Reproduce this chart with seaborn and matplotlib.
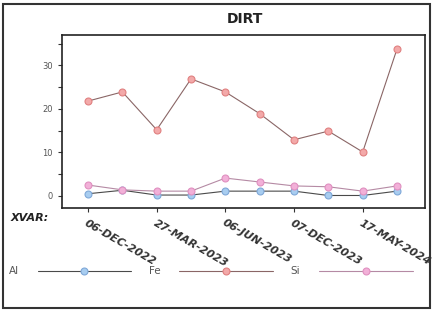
import numpy as np
import pandas as pd
import seaborn as sns
import matplotlib.pyplot as plt
from matplotlib.patches import Rectangle

# data (10 samples, every other one labelled)
sample_no = [1, 2, 3, 4, 5, 6, 7, 8, 9, 10]
tick_pos = [1, 3, 5, 7, 9]
tick_labels = ["06-DEC-2022", "27-MAR-2023", "06-JUN-2023", "07-DEC-2023", "17-MAY-2024"]
al = [0.5, 1.3, 0.2, 0.2, 1.1, 1.1, 1.1, 0.1, 0.1, 1.1]
fe = [21.8, 23.9, 15.2, 26.9, 23.9, 18.9, 12.9, 14.9, 10.1, 33.8]
si = [2.5, 1.4, 1.1, 1.1, 4.1, 3.2, 2.3, 2.1, 1.1, 2.3]
names = ["Al", "Fe", "Si"]

sns.set_style("white")
fig = plt.figure(figsize=(4.33, 3.12), dpi=100)
ax = fig.add_axes([0.143, 0.333, 0.839, 0.555])

styles = {
    "Al": dict(color="#4a4a4a", mfc="#a8cdf0", mec="#7fa8d8"),
    "Fe": dict(color="#8a6666", mfc="#f3a9a9", mec="#e08080"),
    "Si": dict(color="#b58aa4", mfc="#f2b0d8", mec="#e090c0"),
}
for name, vals in zip(names, [al, fe, si]):
    st = styles[name]
    sns.lineplot(x=sample_no, y=vals, ax=ax, color=st["color"], lw=0.8,
                 marker="o", markersize=5, markerfacecolor=st["mfc"],
                 markeredgecolor=st["mec"], markeredgewidth=0.8, label=name)

ax.set_xlim(0.24, 10.82)
ax.set_ylim(-2.8, 37)
ax.set_yticks([0, 10, 20, 30])
ax.set_yticks([5, 15, 25, 35], minor=True)
ax.tick_params(axis="y", which="both", direction="out", length=3, width=0.8,
               left=True, labelsize=6, labelcolor="#555555", color="#333333")
ax.set_xticks(tick_pos)
ax.set_xticklabels(tick_labels, rotation=-30, ha="left", va="top",
                   rotation_mode="anchor", fontsize=8, fontstyle="italic",
                   fontweight="bold", color="#333333")
ax.tick_params(axis="x", direction="out", length=3, width=0.8, bottom=True,
               color="#333333", pad=4)
ax.set_xlabel("")
ax.set_ylabel("")
for sp in ax.spines.values():
    sp.set_color("#222222")
    sp.set_linewidth(1.2)

fig.text(0.566, 0.94, "DIRT", ha="center", va="center", fontsize=10,
         fontweight="bold", color="#222222")
fig.text(0.025, 0.30, "XVAR:", ha="left", va="center", fontsize=8,
         fontstyle="italic", fontweight="bold", color="#222222")

leg = ax.legend(loc="center left", bbox_to_anchor=(0.02, 0.13), bbox_transform=fig.transFigure,
                ncol=3, frameon=False, markerfirst=False, handlelength=9.0,
                columnspacing=1.7, handletextpad=1.8, borderpad=0, borderaxespad=0,
                fontsize=7.5)
for t in leg.get_texts():
    t.set_color("#555555")

fig.add_artist(Rectangle((0.008, 0.012), 0.985, 0.976, transform=fig.transFigure,
                         fill=False, edgecolor="#333333", linewidth=1.5))

fig.savefig("out.png", dpi=100)
